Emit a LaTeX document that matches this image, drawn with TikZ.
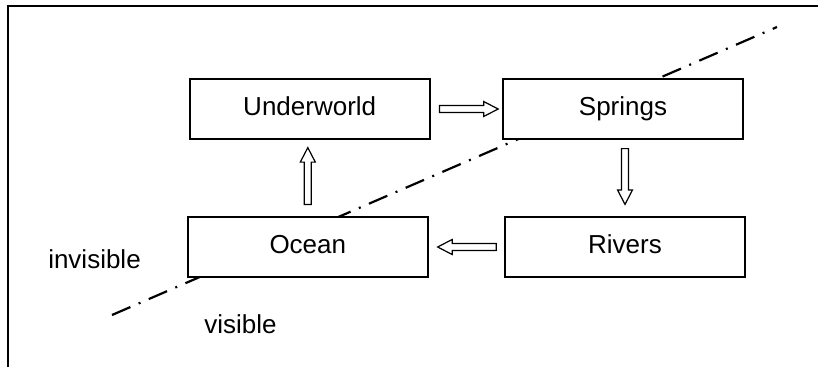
\documentclass[tikz,border=0pt]{standalone}
\usepackage{fontspec}
\setmainfont{Liberation Sans}
\usetikzlibrary{calc}
\tikzset{
  stage/.style={draw, fill=white, line width=1.7pt, minimum width=240pt,
    minimum height=59.5pt, inner sep=0pt, text height=18.7pt, text depth=6.5pt,
    font=\fontsize{26}{30}\selectfont},
  zonetext/.style={inner sep=0pt, font=\fontsize{26}{30}\selectfont},
  divider/.style={line width=2.2pt, dash pattern=on 20pt off 9pt on 2pt off 9pt},
  frame/.style={line width=2.2pt},
  % hollow block arrow; #1 = gap at the start, #2 = gap at the tip
  hollow/.style 2 args={draw, fill=white, line width=1.2pt, line join=miter,
    to path={
      ($(\tikztostart)!#1!(\tikztotarget)!3.5pt!90:(\tikztotarget)$)
      -- ($(\tikztotarget)!#2!(\tikztostart)!14.5pt!(\tikztostart)!3.5pt!90:(\tikztotarget)$)
      -- ($(\tikztotarget)!#2!(\tikztostart)!14.5pt!(\tikztostart)!7.5pt!90:(\tikztotarget)$)
      -- ($(\tikztotarget)!#2!(\tikztostart)$)
      -- ($(\tikztotarget)!#2!(\tikztostart)!14.5pt!(\tikztostart)!7.5pt!-90:(\tikztotarget)$)
      -- ($(\tikztotarget)!#2!(\tikztostart)!14.5pt!(\tikztostart)!3.5pt!-90:(\tikztotarget)$)
      -- ($(\tikztostart)!#1!(\tikztotarget)!3.5pt!-90:(\tikztotarget)$)
      -- cycle}}
}
\begin{document}
\begin{tikzpicture}[x=1pt,y=-1pt]
  \useasboundingbox (0,0) rectangle (818,367);

  % open frame: left and top edges only
  \draw[frame] (8,367) -- (8,6) -- (820,6);

  % boundary between the visible and the invisible
  \coordinate (divA) at (112,315);
  \coordinate (divB) at (777,27);
  \draw[divider] (divA) -- (divB);

  % the four stages of the cycle
  \node[stage] (uw) at (309.7,109) {Underworld};
  \node[stage] (sp) at (623,109) {Springs};
  \node[stage] (oc) at (307.8,247) {Ocean};
  \node[stage] (rv) at (625,247) {Rivers};

  % zone labels
  \node[zonetext, anchor=base] (inv) at (94.5,268) {invisible};
  \node[zonetext, anchor=base] (vis) at (240.5,333) {visible};

  % flow between the stages
  \coordinate (upEnd) at (oc.north |- uw.south);
  \coordinate (downStart) at (sp.south -| rv.north);
  \draw[hollow={9pt}{4pt}] (uw.east) to (sp.west);
  \draw[hollow={9pt}{12pt}] (downStart) to (rv.north);
  \draw[hollow={8pt}{9pt}] (rv.west) to (oc.east);
  \draw[hollow={12pt}{8pt}] (oc.north) to (upEnd);
\end{tikzpicture}
\end{document}
